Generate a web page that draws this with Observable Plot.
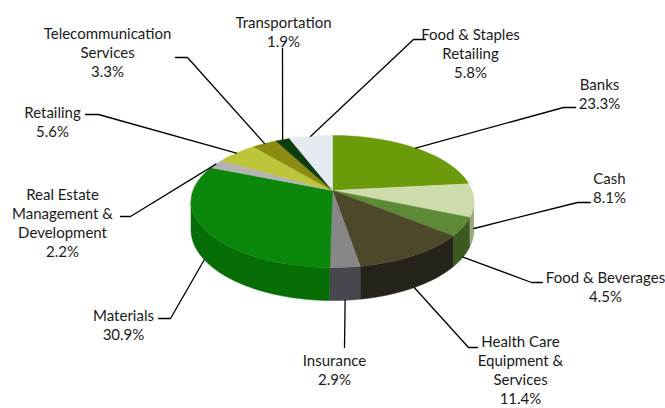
<!DOCTYPE html>
<html><head><meta charset="utf-8">
<script src="https://cdn.jsdelivr.net/npm/d3@7"></script>
<script src="https://cdn.jsdelivr.net/npm/@observablehq/plot@0.6"></script>
<style>html,body{margin:0;padding:0;background:#fff}</style>
</head><body><div id="chart"></div>
<script>
// ---- data ----
const sectors = ["Banks","Cash","Food & Beverages","Health Care Equipment & Services","Insurance","Materials","Real Estate Management & Development","Retailing","Telecommunication Services","Transportation","Food & Staples Retailing"];
const labelLines = ["Banks","Cash","Food & Beverages","Health Care\nEquipment &\nServices","Insurance","Materials","Real Estate\nManagement &\nDevelopment","Retailing","Telecommunication\nServices","Transportation","Food & Staples\nRetailing"];
const shares = [23.3, 8.1, 4.5, 11.4, 2.9, 30.9, 2.2, 5.6, 3.3, 1.9, 5.8];

// ---- styles ----
const topColors  = ["#6b9b0b","#cddcaa","#5e8a38","#4d4829","#878787","#0b870b","#b4b4b4","#bcc43a","#8c8c12","#0d3d0d","#e4eaf0"];
const sideColors = ["#4d7008","#9aa882","#3b5a20","#26241a","#47474e","#076d07","#8a8a8a","#8f9528","#66660c","#082808","#b8bec4"];

// ---- label layout (text centre of first line, elbow, tick end) ----
const textPos  = [[599,83],[609,177],[605,276],[520,340],[334,359],[123,314],[62,193],[52,111],[107,32],[283,21],[470,33]];
const elbowPos = [[563,107],[577,202],[531,282],[468,347],[344,347],[170,318],[130,216],[98,114],[187,57],[282,48],[413,39]];
const tickPos  = [[575,107],[590,202],[542,282],[477,347],[344,347],[158,318],[120,216],[85,114],[175,57],[282,48],[425,39]];

// ---- 3D pie projection ----
const G = {cx:332, cy:190, A:139.5, B:64.2, k:0.1667, D:27.5};
function topPt(t){const c=Math.cos(t),s=Math.sin(t),den=1+G.k*c;return [G.cx+G.A*s/den, G.cy-G.B*c/den];}
function botPt(t){const [x,y]=topPt(t);return [x, y+G.D/(1+G.k*Math.cos(t))];}

const arcs = d3.pie().sort(null).value(d=>d).startAngle(0).endAngle(2*Math.PI)(shares);
const step = Math.PI/360;
function range(a0,a1){const n=Math.max(2,Math.ceil((a1-a0)/step));return d3.range(n+1).map(j=>a0+(a1-a0)*j/n);}

const topPts = [];
arcs.forEach((a,i)=>{
  topPts.push({i, x:G.cx, y:G.cy, c:topColors[i]});
  range(a.startAngle,a.endAngle).forEach(t=>{const [x,y]=topPt(t);topPts.push({i,x,y,c:topColors[i]});});
  topPts.push({i, x:G.cx, y:G.cy, c:topColors[i]});
});

const vs = Math.acos(-G.k), ve = 2*Math.PI - vs;
const sidePts = [];
arcs.forEach((a,i)=>{
  const s0=Math.max(a.startAngle,vs), s1=Math.min(a.endAngle,ve);
  if(s1<=s0) return;
  const ts=range(s0,s1);
  ts.forEach(t=>{const [x,y]=topPt(t);sidePts.push({i,x,y,c:sideColors[i]});});
  ts.slice().reverse().forEach(t=>{const [x,y]=botPt(t);sidePts.push({i,x,y,c:sideColors[i]});});
});

const leaderPts = [];
arcs.forEach((a,i)=>{
  const m=(a.startAngle+a.endAngle)/2;
  const p = Math.cos(m)<0 ? botPt(m) : topPt(m);
  leaderPts.push({i,x:p[0],y:p[1]});
  leaderPts.push({i,x:elbowPos[i][0],y:elbowPos[i][1]});
  leaderPts.push({i,x:tickPos[i][0],y:tickPos[i][1]});
});

const labels = sectors.map((s,i)=>({
  text: labelLines[i]+"\n"+shares[i].toFixed(1)+"%",
  x: textPos[i][0], y: textPos[i][1]-7
}));

const chart = Plot.plot({
  width:665, height:408, margin:0,
  x:{domain:[0,665], range:[0,665], axis:null},
  y:{domain:[0,408], range:[0,408], axis:null},
  color:{type:"identity"},
  style:{fontFamily:"Lato, 'Open Sans', sans-serif", background:"#fff"},
  marks:[
    Plot.line(sidePts,{x:"x",y:"y",z:"i",fill:"c",stroke:"c",strokeWidth:0.5,curve:"linear"}),
    Plot.line(topPts,{x:"x",y:"y",z:"i",fill:"c",stroke:"c",strokeWidth:0.5,curve:"linear"}),
    Plot.line(leaderPts,{x:"x",y:"y",z:"i",stroke:"#000",strokeWidth:1.3}),
    Plot.text(labels,{x:"x",y:"y",text:"text",fontSize:15,lineHeight:1.26,lineAnchor:"top",textAnchor:"middle",fill:"#1a1a1a"})
  ]
});
document.getElementById("chart").appendChild(chart);
</script>
</body></html>
